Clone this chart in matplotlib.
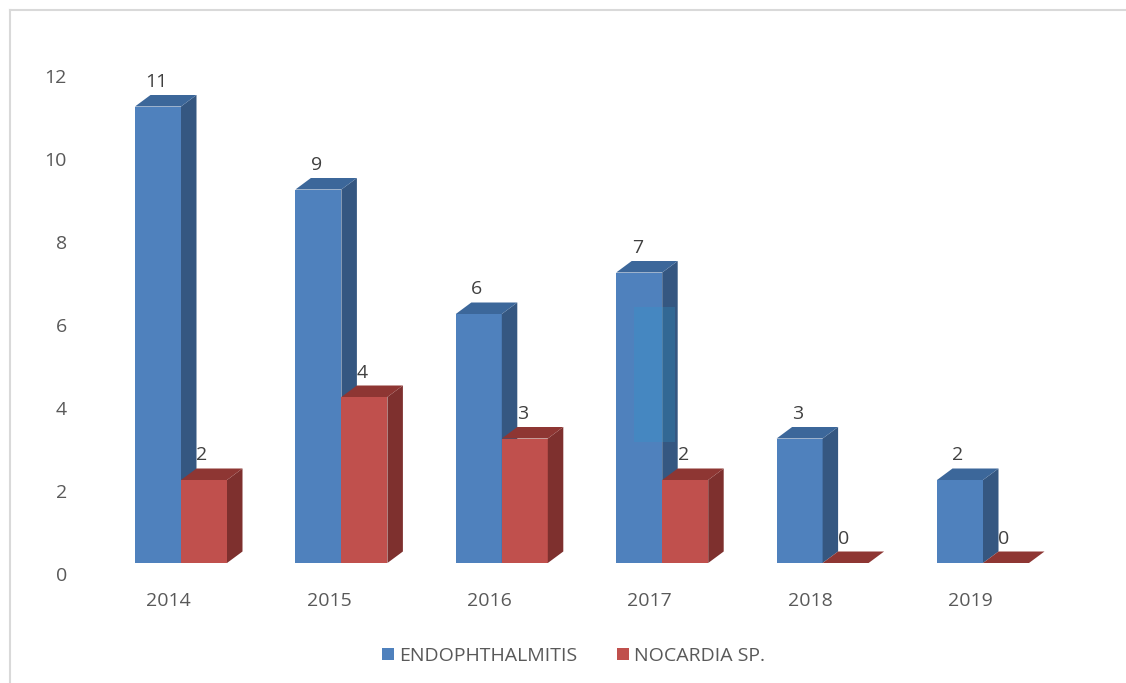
import matplotlib
matplotlib.use("Agg")
import matplotlib.pyplot as plt
from matplotlib.patches import Polygon, Patch, Rectangle
from matplotlib.lines import Line2D
from matplotlib.transforms import ScaledTranslation

# --- data -------------------------------------------------------------
years = ["2014", "2015", "2016", "2017", "2018", "2019"]
endophthalmitis = [11, 9, 6, 7, 3, 2]
nocardia = [2, 4, 3, 2, 0, 0]
series_names = ["ENDOPHTHALMITIS", "NOCARDIA SP."]
y_ticks = [0, 2, 4, 6, 8, 10, 12]

# --- styling ----------------------------------------------------------
FRONT = ["#4F81BD", "#C0504D"]
SIDE = ["#355781", "#7E302E"]
TOP = ["#3C679A", "#8E3633"]
TEXT_GREY = "#595959"
LABEL_GREY = "#404040"
FONT = ["Open Sans", "DejaVu Sans"]
FS = 14
plt.rcParams["font.family"] = FONT

W_PX, H_PX = 1126, 683
fig = plt.figure(figsize=(W_PX / 100, H_PX / 100), dpi=100)

# plot area in pixels (from the top-left corner)
AX_L, AX_R, AX_T, AX_B = 75, 1110, 20, 580
CAT0_PX, CAT_STEP_PX = 181.0, 160.4   # category position 0 and spacing
ZERO_PX, UNIT_PX = 563.0, 41.5        # value 0 and pixels per unit

ax = fig.add_axes([AX_L / W_PX, 1 - AX_B / H_PX,
                   (AX_R - AX_L) / W_PX, (AX_B - AX_T) / H_PX])
ax.set_xlim((AX_L - CAT0_PX) / CAT_STEP_PX, (AX_R - CAT0_PX) / CAT_STEP_PX)
ax.set_ylim((ZERO_PX - AX_B) / UNIT_PX, (ZERO_PX - AX_T) / UNIT_PX)
for s in ax.spines.values():
    s.set_visible(False)

bar_w = 46 / CAT_STEP_PX          # width of one bar in category units
depth_x = 15.5 / CAT_STEP_PX      # 3-D depth offset
depth_y = 11.5 / UNIT_PX


def bar3d(x0, h, k):
    x1 = x0 + bar_w
    front = Rectangle((x0, 0), bar_w, h, facecolor=FRONT[k], edgecolor="none")
    side = Polygon([(x1, 0), (x1 + depth_x, depth_y), (x1 + depth_x, h + depth_y), (x1, h)],
                   closed=True, facecolor=SIDE[k], edgecolor="none")
    top = Polygon([(x0, h), (x1, h), (x1 + depth_x, h + depth_y), (x0 + depth_x, h + depth_y)],
                  closed=True, facecolor=TOP[k], edgecolor="none")
    parts = [side, top] if h == 0 else [front, side, top]
    for p in parts:
        p.set_clip_on(False)
        ax.add_patch(p)
    ax.annotate(str(h), xy=(x0 + bar_w / 2, h + depth_y), xytext=(-2, 13),
                textcoords="offset pixels", ha="center", va="center",
                fontsize=FS, color=LABEL_GREY, annotation_clip=False)


for i, (a, b) in enumerate(zip(endophthalmitis, nocardia)):
    bar3d(i - bar_w, a, 0)
    bar3d(i, b, 1)

# faint highlight on the 2017 bar
ax.add_patch(Rectangle(((634 - CAT0_PX) / CAT_STEP_PX, (ZERO_PX - 442) / UNIT_PX),
                       41 / CAT_STEP_PX, 135 / UNIT_PX,
                       facecolor="#2B9BD0", alpha=0.25, edgecolor="none", zorder=3))

# axes ticks
ax.set_yticks(y_ticks)
ax.set_yticklabels([str(t) for t in y_ticks])
ax.set_xticks(range(len(years)))
ax.set_xticklabels(years)
ax.tick_params(axis="both", length=0, labelsize=FS, labelcolor=TEXT_GREY)
ax.tick_params(axis="y", pad=5.8)
ax.tick_params(axis="x", pad=8.5)
for lab in ax.get_yticklabels():
    lab.set_transform(lab.get_transform() + ScaledTranslation(0, -0.11, fig.dpi_scale_trans))
for lab in ax.get_xticklabels():
    lab.set_transform(lab.get_transform() + ScaledTranslation(-0.125, 0, fig.dpi_scale_trans))

# legend
handles = [Patch(facecolor=FRONT[0]), Patch(facecolor=FRONT[1])]
fig.legend(handles, series_names, loc="center", bbox_to_anchor=(573.5 / W_PX, 1 - 656 / H_PX),
           ncol=2, frameon=False, fontsize=FS, labelcolor=TEXT_GREY,
           handlelength=0.62, handleheight=0.62, handletextpad=0.3, columnspacing=2.0)

# chart frame
fig.add_artist(Line2D([9.5 / W_PX, 1.0], [1 - 9.5 / H_PX] * 2, color="#D9D9D9", lw=1.5,
                      transform=fig.transFigure))
fig.add_artist(Line2D([9.5 / W_PX] * 2, [0.0, 1 - 9.5 / H_PX], color="#D9D9D9", lw=1.5,
                      transform=fig.transFigure))

fig.savefig("out.png", dpi=100, facecolor="white")
